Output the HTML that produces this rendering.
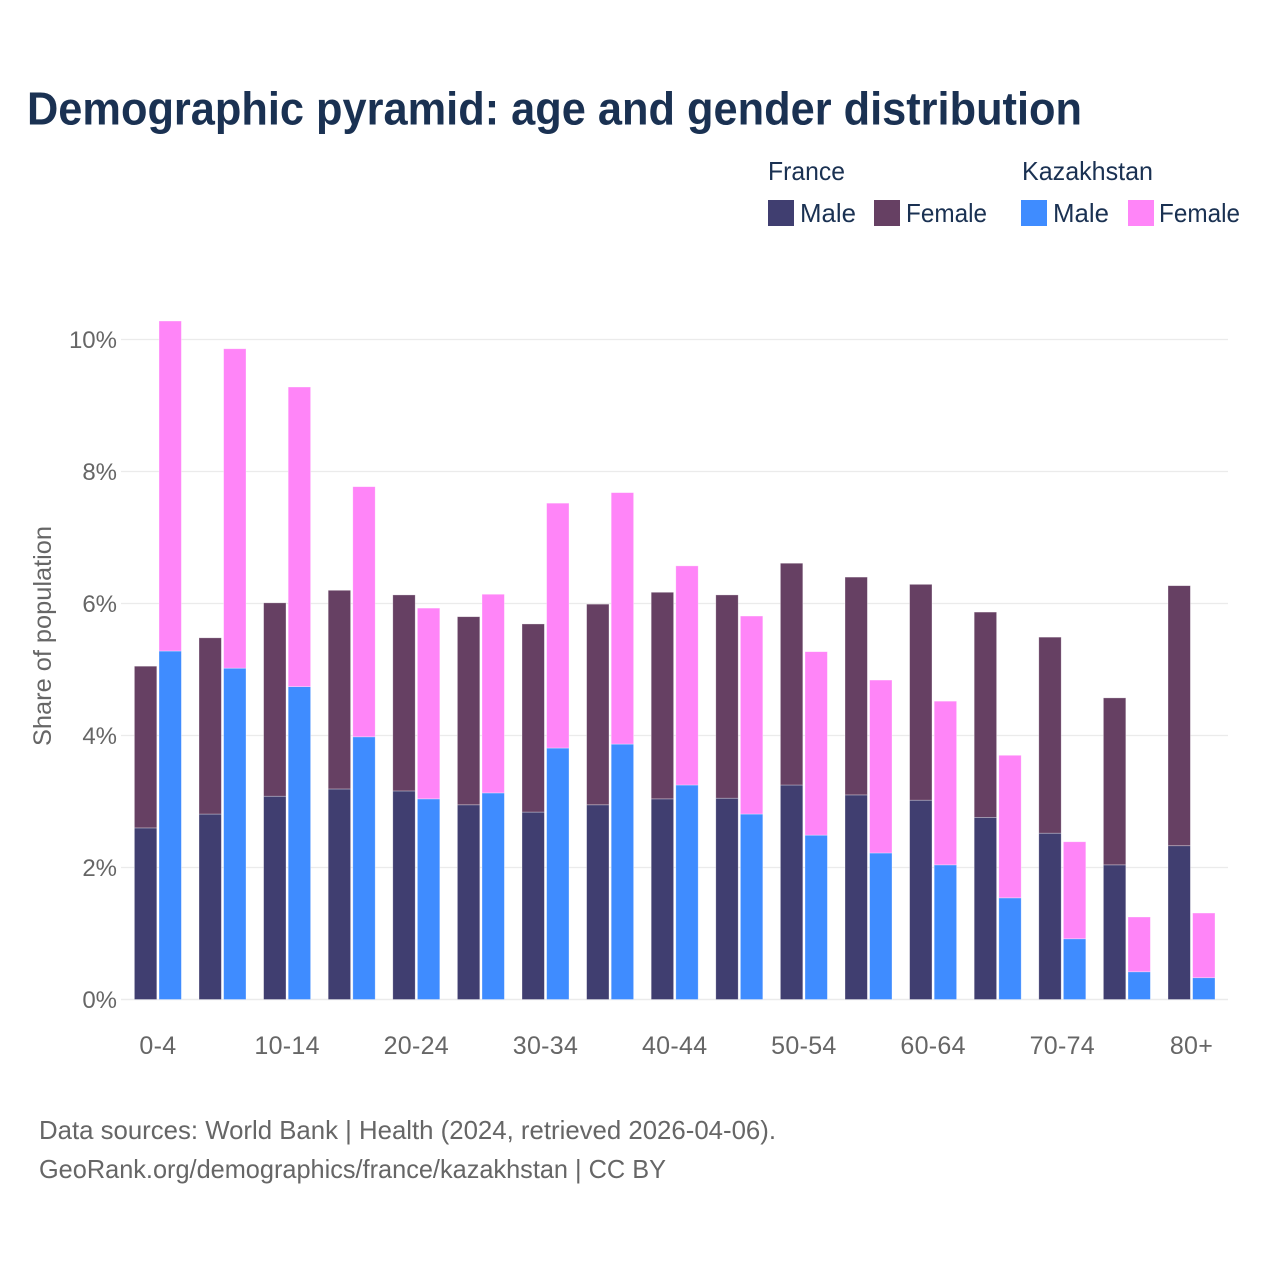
<!DOCTYPE html>
<html lang="en">
<head>
<meta charset="utf-8">
<title>Demographic pyramid: age and gender distribution</title>
<style>
  html, body { margin: 0; padding: 0; background: #fff; }
  svg { display: block; font-family: "Liberation Sans", sans-serif; }
</style>
</head>
<body>
<svg id="chart" xmlns="http://www.w3.org/2000/svg" width="1280" height="1280" viewBox="0 0 1280 1280">
  <rect x="0" y="0" width="1280" height="1280" fill="#ffffff"/>
  <text x="27" y="124.5" font-size="46" font-weight="700" fill="#1a3152" textLength="1055" lengthAdjust="spacingAndGlyphs">Demographic pyramid: age and gender distribution</text>

  <g font-size="26" fill="#1a3152">
    <text x="768" y="180" textLength="77" lengthAdjust="spacingAndGlyphs">France</text>
    <text x="1022" y="180" textLength="131" lengthAdjust="spacingAndGlyphs">Kazakhstan</text>
    <rect x="768" y="200" width="26" height="26" fill="#403e70"/>
    <text x="800" y="222" textLength="56" lengthAdjust="spacingAndGlyphs">Male</text>
    <rect x="874" y="200" width="26" height="26" fill="#664063"/>
    <text x="906" y="222" textLength="81" lengthAdjust="spacingAndGlyphs">Female</text>
    <rect x="1021" y="200" width="26" height="26" fill="#3f8cff"/>
    <text x="1053" y="222" textLength="56" lengthAdjust="spacingAndGlyphs">Male</text>
    <rect x="1128" y="200" width="26" height="26" fill="#ff85f8"/>
    <text x="1159" y="222" textLength="81" lengthAdjust="spacingAndGlyphs">Female</text>
  </g>

  <g id="grid"></g>
  <g id="yticks"></g>
  <g id="bars"></g>
  <g id="xticks"></g>

  <text transform="translate(51,746) rotate(-90)" x="0" y="0" font-size="25" fill="#666666" textLength="220" lengthAdjust="spacingAndGlyphs">Share of population</text>

  <text x="39" y="1139" font-size="26" fill="#666666" textLength="737" lengthAdjust="spacingAndGlyphs">Data sources: World Bank | Health (2024, retrieved 2026-04-06).</text>
  <text x="39" y="1178" font-size="26" fill="#666666" textLength="627" lengthAdjust="spacingAndGlyphs">GeoRank.org/demographics/france/kazakhstan | CC BY</text>
</svg>

<script>
const ageGroups = ["0-4","5-9","10-14","15-19","20-24","25-29","30-34","35-39","40-44","45-49","50-54","55-59","60-64","65-69","70-74","75-79","80+"];
const xTickLabels = ["0-4","","10-14","","20-24","","30-34","","40-44","","50-54","","60-64","","70-74","","80+"];
const yTickValues = [0, 2, 4, 6, 8, 10];
const franceMale = [2.60,2.81,3.08,3.19,3.16,2.95,2.84,2.95,3.04,3.05,3.25,3.10,3.02,2.76,2.52,2.04,2.33];
const franceFemale = [2.45,2.67,2.93,3.01,2.97,2.85,2.85,3.04,3.13,3.08,3.36,3.30,3.27,3.11,2.97,2.53,3.94];
const kazakhstanMale = [5.28,5.02,4.74,3.98,3.04,3.13,3.81,3.87,3.25,2.81,2.49,2.22,2.04,1.54,0.92,0.42,0.33];
const kazakhstanFemale = [5.00,4.84,4.54,3.79,2.89,3.01,3.71,3.81,3.32,3.00,2.78,2.62,2.48,2.16,1.47,0.83,0.98];

const NS = 'http://www.w3.org/2000/svg';
const yScale = v => 999.5 - v * 66;
const groupCenter = i => 157.9 + i * 64.6;
const barWidth = 22.4;
const barGap = 2.2;

function make(tag, attrs, parent) {
  const el = document.createElementNS(NS, tag);
  for (const k in attrs) el.setAttribute(k, attrs[k]);
  parent.appendChild(el);
  return el;
}

const grid = document.getElementById('grid');
const yticks = document.getElementById('yticks');
yTickValues.forEach(v => {
  const line = make('line', {x1: 121, x2: 1228, y1: yScale(v), y2: yScale(v), stroke: '#ebebeb', 'stroke-width': v === 0 ? 1.6 : 1.2}, grid);
  
  
  const label = make('text', {x: 117, y: yScale(v) + 8.5, 'text-anchor': 'end', 'font-size': 24, fill: '#666666'}, yticks);
  
  
  label.textContent = v + '%';
});

const bars = document.getElementById('bars');
function drawBar(x, base, value, color) {
  const rect = make('rect', {
    x: x,
    y: yScale(base + value),
    width: barWidth,
    height: yScale(base) - yScale(base + value),
    fill: color,
    stroke: '#ffffff',
    'stroke-opacity': 0.45,
    'stroke-width': 0.7
  }, bars);
  return rect;
}
ageGroups.forEach((age, i) => {
  const c = groupCenter(i);
  const leftX = c - barGap / 2 - barWidth;
  const rightX = c + barGap / 2;
  const a = drawBar(leftX, 0, franceMale[i], '#403e70');
  
  
  const b = drawBar(leftX, franceMale[i], franceFemale[i], '#664063');
  
  
  const d = drawBar(rightX, 0, kazakhstanMale[i], '#3f8cff');
  
  
  const e = drawBar(rightX, kazakhstanMale[i], kazakhstanFemale[i], '#ff85f8');
  
  
});

const xticks = document.getElementById('xticks');
xTickLabels.forEach((t, i) => {
  if (!t) return;
  const label = make('text', {x: groupCenter(i), y: 1054, 'text-anchor': 'middle', 'font-size': 25, 'letter-spacing': 0.3, fill: '#666666'}, xticks);
  
  
  label.textContent = t;
});
</script>
</body>
</html>
